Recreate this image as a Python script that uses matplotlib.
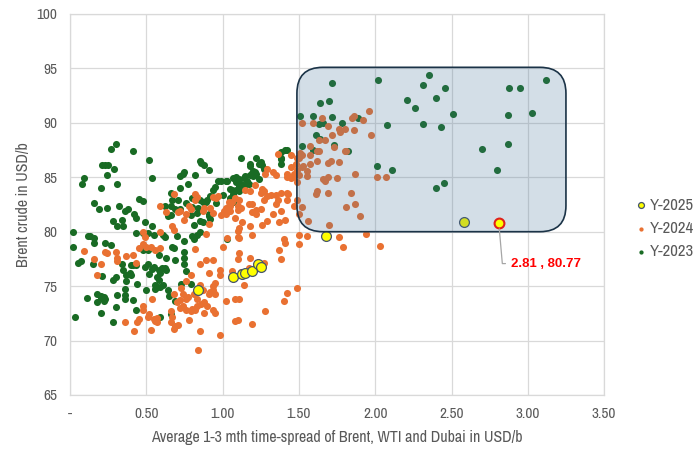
import matplotlib
matplotlib.use("Agg")
import matplotlib.pyplot as plt
from matplotlib.patches import FancyBboxPatch
from matplotlib import font_manager

# choose a narrow sans font if one is installed, else Liberation Sans
_narrow = None
for _f in font_manager.fontManager.ttflist:
    _n = _f.name
    if ('Narrow' in _n or 'Condensed' in _n) and 'Mono' not in _n and 'Serif' not in _n:
        _narrow = _n
        break
FONT = _narrow if _narrow else 'Liberation Sans'
plt.rcParams['font.family'] = [FONT, 'DejaVu Sans']

# ---------------- data ----------------
y2023_x = [0.30,0.27,0.41,0.52,0.21,0.23,0.25,0.29,0.24,0.09,0.08,0.31,0.54,0.20,0.16,0.19,0.24,0.32,0.36,0.38,
           0.45,0.48,0.42,0.43,0.28,0.34,0.31,0.35,0.02,0.49,0.54,0.43,0.48,0.51,0.13,0.16,0.62,0.61,0.55,0.72,
           0.66,0.67,0.71,0.62,0.66,0.69,0.64,0.66,0.02,0.05,0.07,0.12,0.11,0.03,
           1.42,1.38,1.38,1.38,1.22,1.25,1.24,1.12,1.18,1.18,1.20,1.22,1.28,0.85,0.86,0.88,0.91,0.75,0.74,0.82,
           0.77,0.72,0.76,0.80,0.72,0.80,0.84,0.83,0.85,0.79,0.87,0.89,0.90,0.92,0.94,0.95,0.97,0.99,1.02,1.03,
           0.96,1.00,1.05,1.05,1.07,1.07,1.09,1.09,1.11,1.11,1.12,1.11,1.09,1.05,1.06,1.07,1.14,1.15,1.16,1.18,
           1.19,1.20,1.21,1.24,1.17,1.15,1.11,0.92,0.91,0.91,0.85,0.87,0.81,0.85,0.83,0.80,0.81,1.03,0.70,
           1.61,1.64,1.52,1.73,1.82,1.59,2.01,2.11,1.26,1.27,1.21,1.21,1.41,1.38,
           1.72,2.02,2.35,2.31,2.46,2.88,2.95,3.12,2.21,2.26,2.40,2.51,2.87,3.03,1.64,1.70,1.51,1.59,1.72,1.78,
           1.89,1.63,1.66,2.08,2.31,2.43,2.70,2.87,2.80,2.40,2.45,
           0.15,0.21,0.28,0.30,0.16,0.23,0.27,0.34,0.35,0.37,0.39,0.41,0.40,0.43,0.37,0.40,0.44,0.48,0.51,0.49,
           0.51,0.52,0.54,0.55,0.58,0.60,0.62,0.63,0.58,0.63,0.68,0.67,0.69,0.75,0.75,0.75,0.76,0.59,0.57,0.58,
           0.56,0.57,0.59,0.61,0.56,0.64,0.65,0.50,0.36,0.36,0.36,0.31,0.18,0.20,0.20,0.22,0.23,0.22,0.18,0.20,
           0.30,0.28,0.41,0.43,0.69,0.59,0.66,0.73,0.79,0.75]
y2023_y = [88.1,87.6,87.4,86.6,86.1,86.1,86.1,85.8,85.2,84.9,84.4,84.4,84.9,84.0,82.6,82.1,82.2,82.4,81.9,82.1,
           83.0,82.8,81.6,81.3,81.0,81.1,80.5,80.5,80.0,80.9,80.5,79.9,79.9,79.9,79.6,79.4,79.5,79.7,79.7,85.1,
           83.6,82.9,82.9,82.4,82.4,82.1,81.4,81.5,78.6,77.1,77.3,79.6,73.9,72.2,
           87.5,87.3,86.8,86.2,86.8,86.4,86.2,86.8,86.2,86.0,85.6,85.3,85.8,86.5,86.3,86.1,85.7,85.5,85.3,85.2,
           84.4,84.0,82.6,83.1,82.1,82.3,82.2,81.7,82.9,81.5,82.7,82.7,82.9,83.3,83.8,84.1,84.7,84.7,84.7,84.7,
           82.6,83.4,83.1,82.9,82.7,84.9,85.0,84.6,84.8,84.2,84.4,84.0,83.8,83.9,83.8,83.5,84.9,85.1,84.7,85.2,
           85.4,85.1,85.3,84.8,84.4,84.3,83.7,81.2,81.6,81.4,81.0,80.9,80.6,80.0,79.7,79.6,79.3,79.3,79.6,
           88.9,88.5,87.9,88.0,87.4,87.5,86.0,85.7,86.1,85.8,85.5,85.2,87.5,86.7,
           93.7,93.9,94.4,93.5,93.2,93.2,93.2,93.9,92.1,91.4,92.3,90.8,90.7,90.9,91.8,92.0,90.6,90.6,90.5,90.0,
           90.4,89.9,90.0,89.8,89.9,89.6,87.6,88.1,85.7,84.0,84.5,
           77.0,75.9,75.6,75.8,79.0,79.0,78.8,77.0,76.5,76.0,76.2,76.9,76.9,76.9,75.5,76.0,75.2,78.3,78.3,76.8,
           77.0,76.1,76.6,76.8,76.5,76.7,76.7,76.5,77.9,77.6,78.5,78.6,77.4,78.1,77.6,77.0,76.4,76.2,75.8,75.6,
           75.1,74.9,74.9,75.1,74.7,74.6,74.1,74.6,74.7,74.2,73.8,74.2,74.3,74.1,73.9,74.0,73.8,73.6,73.5,72.5,
           73.1,71.7,73.7,72.8,73.6,72.2,72.4,75.2,75.2,79.1]

y2024_x = [0.68,0.59,0.63,0.72,0.48,0.59,0.49,0.09,
           1.36,1.45,1.49,1.48,1.45,1.42,1.47,1.45,1.33,1.35,1.28,1.29,1.26,1.27,1.32,1.35,1.38,1.36,1.35,1.42,
           1.43,1.18,1.15,1.17,1.19,1.22,1.25,1.33,1.38,1.41,1.37,1.29,1.26,1.18,1.11,1.10,1.10,1.10,1.08,1.06,
           1.04,1.04,1.02,1.05,1.01,1.02,0.94,0.96,0.97,0.82,0.83,0.82,0.78,0.79,0.76,0.94,0.92,0.88,0.87,0.71,
           0.75,0.67,0.68,0.89,0.91,1.10,1.40,0.99,1.08,
           1.72,1.77,1.86,1.97,1.57,1.63,1.67,1.51,1.52,1.57,1.62,1.57,1.53,1.52,1.69,1.71,1.76,1.80,1.87,2.01,
           2.07,1.69,1.67,1.75,1.62,1.61,1.69,1.84,1.87,1.90,1.81,1.70,1.56,1.52,1.49,1.94,2.03,1.76,1.79,1.55,
           1.50,1.42,1.46,1.42,1.21,1.25,1.29,1.27,1.22,1.19,1.11,1.12,1.05,1.03,1.13,1.19,1.11,1.03,1.50,
           1.96,1.85,1.86,1.92,1.52,1.59,1.65,1.69,1.76,1.80,1.73,1.81,1.50,1.62,1.63,1.49,1.55,1.50,1.55,1.49,
           1.66,1.47,
           0.16,0.20,0.18,0.23,0.24,0.30,0.31,0.31,0.37,0.41,0.43,0.45,0.48,0.50,0.53,0.56,0.59,0.82,0.85,0.89,
           0.91,0.94,0.98,1.00,1.06,1.10,0.79,0.76,0.85,0.87,0.68,0.73,0.74,0.77,0.81,0.83,0.76,0.72,0.70,0.72,
           0.74,0.76,0.79,0.80,0.82,0.83,0.86,0.88,0.90,0.94,0.95,0.91,0.88,0.94,0.95,0.66,0.67,0.66,0.69,0.68,
           0.57,0.56,0.57,0.52,0.51,0.55,0.54,0.48,0.48,0.45,0.44,0.42,0.53,0.36,0.85,0.98,0.84,1.08,1.10,1.08,
           0.98,0.92,0.94,0.95,0.78,0.71,
           1.41,1.50,1.11,1.18,1.37,1.38,1.17,1.27,1.25,1.12,1.14,1.02,1.11,1.42,1.49,1.40,1.28,1.19]
y2024_y = [83.5,82.4,81.8,81.9,80.0,80.0,79.5,78.2,
           87.1,87.0,86.8,86.2,85.9,85.3,85.3,84.9,85.5,85.2,85.3,85.8,83.9,83.7,83.4,83.4,83.6,82.9,82.5,83.6,
           83.5,83.7,83.8,82.5,82.5,82.0,82.1,81.6,81.9,81.1,80.9,81.0,80.6,80.5,80.3,80.1,82.0,82.4,83.1,82.7,
           82.7,82.4,82.2,81.9,81.9,81.6,83.2,83.1,83.3,83.5,83.2,82.9,82.4,82.1,81.6,81.7,82.2,82.2,81.9,81.8,
           81.1,80.5,80.2,79.8,80.7,79.5,79.3,81.5,81.3,
           88.9,89.2,89.3,88.9,87.9,88.4,88.4,87.2,87.0,87.0,86.5,86.2,86.0,85.9,86.3,86.5,86.4,87.4,85.3,85.0,
           85.0,85.0,84.7,84.9,83.7,83.5,83.6,83.6,82.5,81.4,82.3,80.6,81.0,82.3,82.9,79.8,78.7,79.5,78.6,79.6,
           79.7,85.0,85.0,82.9,84.3,83.6,83.3,82.9,81.6,81.8,82.9,82.2,82.4,82.1,80.9,79.7,79.4,79.4,81.6,
           91.1,90.4,90.6,90.3,90.0,90.0,90.4,89.7,89.4,89.4,87.8,87.4,86.8,87.4,87.4,85.7,85.6,85.2,85.1,84.6,
           84.8,82.4,
           77.5,77.0,76.0,78.1,78.0,78.1,77.6,77.3,77.8,77.9,77.1,78.5,78.9,78.6,78.6,78.3,78.5,78.4,77.0,77.4,
           76.2,77.4,76.5,78.6,76.4,77.5,76.0,75.5,75.1,74.6,74.3,74.8,74.3,74.0,74.3,73.8,73.8,73.7,73.5,73.0,
           73.2,72.8,72.7,72.9,72.8,73.2,73.4,73.5,73.2,74.6,74.3,74.3,72.5,72.8,72.5,72.7,72.2,71.7,71.3,71.1,
           72.1,71.8,71.7,72.4,72.2,72.0,73.8,73.2,72.8,72.0,71.7,70.9,71.0,71.7,70.9,70.5,69.1,71.8,71.9,73.8,
           76.0,74.5,75.0,75.3,71.9,71.4,
           79.0,78.9,78.0,77.6,78.3,77.5,76.7,77.1,76.7,76.3,75.1,73.6,73.8,74.4,74.8,73.6,72.7,71.5]

y2025_x = [0.84, 1.07, 1.13, 1.15, 1.19, 1.23, 1.25, 1.68, 2.58, 2.81]
y2025_y = [74.6, 75.8, 76.1, 76.2, 76.4, 77.0, 76.8, 79.6, 80.9, 80.77]

x_ticks = [0.0, 0.5, 1.0, 1.5, 2.0, 2.5, 3.0, 3.5]
x_tick_labels = ['-', '0.50', '1.00', '1.50', '2.00', '2.50', '3.00', '3.50']
y_ticks = [65, 70, 75, 80, 85, 90, 95, 100]

# ---------------- figure ----------------
narrow = _narrow is not None
fs_tick = 11 if narrow else 9.5
fs_lab = 11.5 if narrow else 10
fs_leg = 12 if narrow else 10

fig = plt.figure(figsize=(7.0, 4.57), dpi=100)
ax = fig.add_axes([0.1, 0.1357, 0.763, 0.8337])

c_green = '#196B24'
c_orange = '#E97132'
c_yellow = '#FFFF00'
txt_gray = '#595959'

ax.scatter(y2023_x, y2023_y, s=26, color=c_green, linewidths=0, zorder=3, label='Y-2023')
ax.scatter(y2024_x, y2024_y, s=26, color=c_orange, linewidths=0, zorder=3, label='Y-2024')
ax.scatter(y2025_x[:-1], y2025_y[:-1], s=50, color=c_yellow, edgecolors='#44546A', linewidths=0.9,
           zorder=4, label='Y-2025')

# highlighted box (semi-transparent overlay on top of points)
box = FancyBboxPatch((1.487, 80.0), 3.25 - 1.487, 95.1 - 80.0,
                     boxstyle='round,pad=0,rounding_size=0.17', mutation_aspect=152.6 / 10.86,
                     facecolor='#44729A', alpha=0.23, edgecolor='none', zorder=5)
ax.add_patch(box)
box_edge = FancyBboxPatch((1.487, 80.0), 3.25 - 1.487, 95.1 - 80.0,
                          boxstyle='round,pad=0,rounding_size=0.17', mutation_aspect=152.6 / 10.86,
                          facecolor='none', edgecolor='#1B3347', linewidth=1.2, zorder=6)
ax.add_patch(box_edge)

# highlighted latest point
hx, hy = y2025_x[-1], y2025_y[-1]
ax.scatter([hx], [hy], s=50, color=c_yellow, edgecolors='#E0201B', linewidths=1.5, zorder=7)
ax.annotate(f'{hx:.2f} , {hy:.2f}', xy=(hx, hy), xytext=(hx + 0.08, hy - 3.7),
            color='#FF0000', fontsize=9.5, fontweight='bold', va='center', ha='left',
            family=['Liberation Sans', 'DejaVu Sans'],
            arrowprops=dict(arrowstyle='-', color='#A6A6A6', lw=0.9,
                            connectionstyle='angle,angleA=0,angleB=95,rad=0',
                            shrinkA=2, shrinkB=4), zorder=8)

ax.set_xlim(0, 3.5)
ax.set_ylim(65, 100)
ax.set_xticks(x_ticks)
ax.set_xticklabels(x_tick_labels)
ax.set_yticks(y_ticks)
ax.grid(True, color='#D9D9D9', linewidth=0.9, zorder=0)
ax.set_axisbelow(True)
for sp in ax.spines.values():
    sp.set_color('#D9D9D9')
    sp.set_linewidth(0.9)
ax.tick_params(length=0, labelsize=fs_tick, labelcolor=txt_gray, pad=9)
ax.set_xlabel('Average 1-3 mth time-spread of Brent, WTI and Dubai in USD/b', fontsize=fs_lab,
              color=txt_gray, labelpad=6)
ax.set_ylabel('Brent crude in USD/b', fontsize=fs_lab, color=txt_gray, labelpad=4)

handles, labels = ax.get_legend_handles_labels()
order = [2, 1, 0]
leg = fig.legend([handles[i] for i in order], [labels[i] for i in order], loc='center left',
                 bbox_to_anchor=(0.9, 0.5), frameon=False, fontsize=fs_leg, handletextpad=0.1,
                 markerscale=0.6, labelspacing=0.5, handlelength=0.9, borderaxespad=0, borderpad=0.2)
for t in leg.get_texts():
    t.set_color(txt_gray)

fig.savefig('out.png', dpi=100)
